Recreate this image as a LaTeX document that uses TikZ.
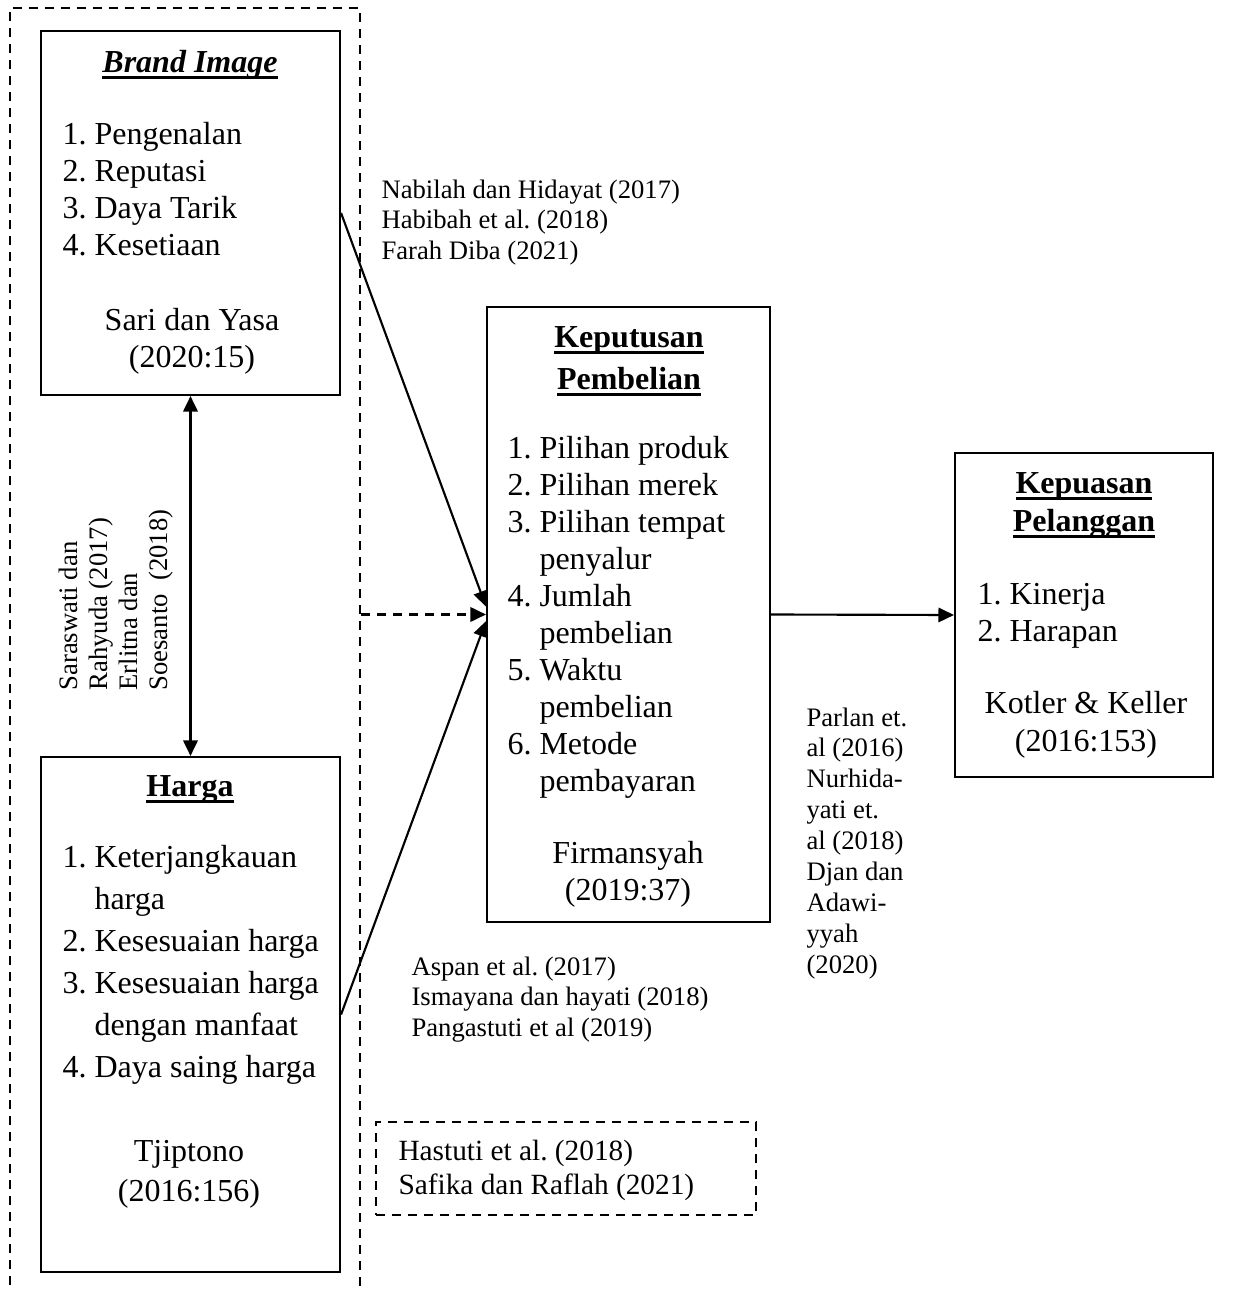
\documentclass[tikz,border=0pt]{standalone}
\usepackage{fontspec}
\setmainfont{Liberation Serif}
\usetikzlibrary{arrows.meta, fit}
\frenchspacing

% thick underline for the variable titles
\newcommand{\thickul}[1]{\setbox0\hbox{#1}\rlap{\rule[-2.4pt]{\wd0}{1pt}}\box0}

\begin{document}
\begin{tikzpicture}[
    x=0.375pt, y=-0.375pt,
    varbox/.style={draw, line width=0.8pt, inner sep=0pt},
    dashbox/.style={draw, line width=0.5pt, dash pattern=on 3.5pt off 2.5pt, inner sep=0pt},
    boxtitle/.style={inner sep=0pt, align=center, font=\bfseries},
    boxlist/.style={inner sep=0pt, align=left},
    citetext/.style={inner sep=0pt, align=center},
    reftext/.style={inner sep=0pt, align=left, font=\fontsize{10}{11.6}\selectfont},
    arrow/.style={-{Triangle[length=5.8pt, width=5.4pt]}, line width=0.8pt}
  ]
  \useasboundingbox (0,0) rectangle (1238,1290);

  % Variable boxes
  \node[dashbox, fit={(10,8) (360,1320)}] (group) {};
  \node[varbox, fit={(41,31) (340,395)}] (bi) {};
  \node[varbox, fit={(41,757) (340,1272)}] (ha) {};
  \node[varbox, fit={(487,307) (770,922)}] (kp) {};
  \node[varbox, fit={(955,453) (1213,777)}] (ks) {};
  \node[dashbox, fit={(376,1122) (756,1215)}] (mod) {};

  % Brand Image
  \node[boxtitle, anchor=north, font=\fontsize{12}{14}\selectfont\bfseries] (bititle) at (190,50) {\thickul{\textit{Brand Image}}};
  \node[boxlist, anchor=north west, font=\fontsize{12}{13.9}\selectfont] (bilist) at (62,122) {1. Pengenalan\\2. Reputasi\\3. Daya Tarik\\4. Kesetiaan};
  \node[citetext, anchor=north, font=\fontsize{12}{13.9}\selectfont] (bicite) at (192,308) {Sari dan Yasa\\(2020:15)};

  % Harga
  \node[boxtitle, anchor=north, font=\fontsize{12}{14}\selectfont\bfseries] (hatitle) at (190,775) {\thickul{Harga}};
  \node[boxlist, anchor=north west, font=\fontsize{12}{15.75}\selectfont] (halist) at (62,845) {1. Keterjangkauan\\\phantom{1. }harga\\2. Kesesuaian harga\\3. Kesesuaian harga\\\phantom{3. }dengan manfaat\\4. Daya saing harga};
  \node[citetext, anchor=north, font=\fontsize{12}{15}\selectfont] (hacite) at (189,1140) {Tjiptono\\(2016:156)};

  % Keputusan Pembelian
  \node[boxtitle, anchor=north, font=\fontsize{12}{15.75}\selectfont\bfseries] (kptitle) at (629,326) {\thickul{Keputusan}\\\thickul{Pembelian}};
  \node[boxlist, anchor=north west, font=\fontsize{12}{13.85}\selectfont] (kplist) at (507,436) {1. Pilihan produk\\2. Pilihan merek\\3. Pilihan tempat\\\phantom{3. }penyalur\\4. Jumlah\\\phantom{4. }pembelian\\5. Waktu\\\phantom{5. }pembelian\\6. Metode\\\phantom{6. }pembayaran};
  \node[citetext, anchor=north, font=\fontsize{12}{13.9}\selectfont] (kpcite) at (628,841) {Firmansyah\\(2019:37)};

  % Kepuasan Pelanggan
  \node[boxtitle, anchor=north, font=\fontsize{12}{14.25}\selectfont\bfseries] (kstitle) at (1084,472) {\thickul{Kepuasan}\\\thickul{Pelanggan}};
  \node[boxlist, anchor=north west, font=\fontsize{12}{13.9}\selectfont] (kslist) at (977,583) {1. Kinerja\\2. Harapan};
  \node[citetext, anchor=north, font=\fontsize{12}{14.25}\selectfont] (kscite) at (1086,691) {Kotler \& Keller\\(2016:153)};

  % References
  \node[reftext, anchor=north west] (refbi) at (381,179) {Nabilah dan Hidayat (2017)\\Habibah et al. (2018)\\Farah Diba (2021)};
  \node[reftext, anchor=north west] (refha) at (411,956) {Aspan et al. (2017)\\Ismayana dan hayati (2018)\\Pangastuti et al (2019)};
  \node[reftext, anchor=north west] (refks) at (806,707) {Parlan et.\\al (2016)\\Nurhida-\\yati et.\\al (2018)\\Djan dan\\Adawi-\\yyah\\(2020)};
  \node[reftext, rotate=90, anchor=north west, font=\fontsize{10}{11.25}\selectfont] (refbh) at (58,691) {Saraswati dan\\Rahyuda (2017)\\Erlitna dan\\Soesanto\ \ (2018)};
  \node[reftext, anchor=north west, font=\fontsize{11}{12.75}\selectfont] (refmod) at (398,1140) {Hastuti et al. (2018)\\Safika dan Raflah (2021)};

  % Arrows
  \coordinate (in1) at ([yshift=3pt]kp.west);
  \coordinate (in3) at ([yshift=-2.5pt]kp.west);
  \draw[arrow] (bi.east) -- (in1);
  \draw[arrow] (ha.east) -- (in3);
  \draw[arrow, dash pattern=on 3.5pt off 2.5pt] (group.east |- kp.west) -- (kp.west);
  \draw[{Triangle[length=5.8pt, width=5.4pt]}-{Triangle[length=5.8pt, width=5.4pt]}, line width=0.8pt] (bi.south) -- (ha.north);
  \draw[arrow] (kp.east) -- (ks.west);
\end{tikzpicture}
\end{document}
